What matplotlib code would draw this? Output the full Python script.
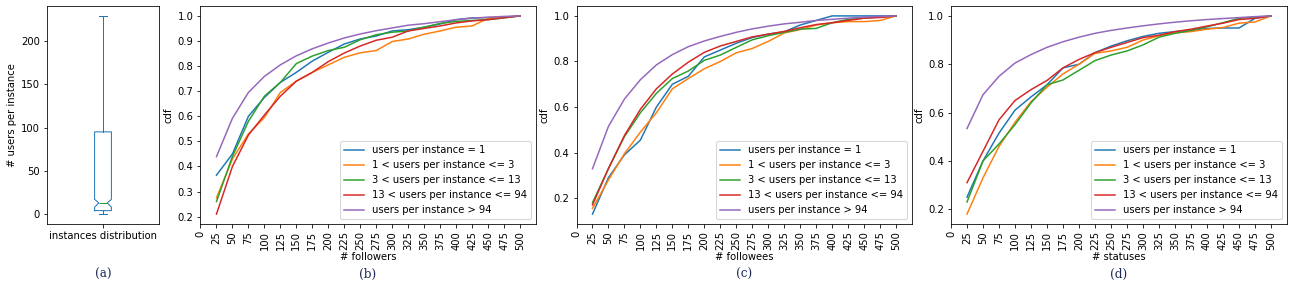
import matplotlib
matplotlib.use("Agg")
import matplotlib.pyplot as plt

# ---------------- data ----------------
x_vals = [25, 50, 75, 100, 125, 150, 175, 200, 225, 250, 275, 300, 325, 350, 375, 400, 425, 450, 475, 500]
xtick_vals = list(range(0, 525, 25))

series_labels = ["users per instance = 1", "1 < users per instance <= 3", "3 < users per instance <= 13",
                 "13 < users per instance <= 94", "users per instance > 94"]

# box plot stats (users per instance)
box_med = 13
box_q1 = 4
box_q3 = 95
box_whislo = 0
box_whishi = 229
box_cilo = 8
box_cihi = 17

# (b) followers
followers_1 = [0.365, 0.45, 0.60, 0.675, 0.735, 0.775, 0.82, 0.855, 0.888, 0.908, 0.92, 0.94, 0.945, 0.955, 0.968, 0.985, 0.992, 0.993, 0.995, 1.0]
followers_3 = [0.275, 0.43, 0.53, 0.595, 0.695, 0.74, 0.775, 0.805, 0.835, 0.853, 0.862, 0.898, 0.908, 0.927, 0.94, 0.955, 0.96, 0.99, 0.995, 1.0]
followers_13 = [0.26, 0.44, 0.58, 0.68, 0.735, 0.81, 0.84, 0.862, 0.875, 0.905, 0.925, 0.935, 0.94, 0.955, 0.97, 0.978, 0.982, 0.985, 0.992, 1.0]
followers_94 = [0.21, 0.40, 0.525, 0.605, 0.68, 0.74, 0.775, 0.818, 0.852, 0.88, 0.903, 0.915, 0.94, 0.95, 0.96, 0.972, 0.98, 0.985, 0.993, 1.0]
followers_big = [0.439, 0.592, 0.695, 0.759, 0.805, 0.841, 0.869, 0.892, 0.912, 0.928, 0.941, 0.952, 0.963, 0.969, 0.977, 0.985, 0.991, 0.995, 0.998, 1.0]

# (c) followees
followees_1 = [0.13, 0.29, 0.39, 0.455, 0.60, 0.70, 0.735, 0.82, 0.85, 0.88, 0.905, 0.92, 0.93, 0.96, 0.98, 1.0, 1.0, 1.0, 1.0, 1.0]
followees_3 = [0.155, 0.28, 0.395, 0.49, 0.575, 0.68, 0.725, 0.768, 0.80, 0.838, 0.857, 0.888, 0.925, 0.94, 0.96, 0.97, 0.975, 0.975, 0.98, 1.0]
followees_13 = [0.18, 0.33, 0.47, 0.575, 0.66, 0.725, 0.758, 0.805, 0.828, 0.862, 0.895, 0.913, 0.928, 0.942, 0.945, 0.97, 0.985, 0.99, 0.995, 1.0]
followees_94 = [0.17, 0.33, 0.475, 0.59, 0.68, 0.745, 0.797, 0.84, 0.868, 0.888, 0.908, 0.92, 0.932, 0.948, 0.962, 0.97, 0.98, 0.99, 0.993, 1.0]
followees_big = [0.329, 0.515, 0.635, 0.72, 0.785, 0.83, 0.865, 0.89, 0.91, 0.928, 0.943, 0.955, 0.965, 0.972, 0.98, 0.985, 0.99, 0.995, 0.998, 1.0]

# (d) statuses
statuses_1 = [0.25, 0.40, 0.515, 0.61, 0.665, 0.715, 0.785, 0.80, 0.848, 0.875, 0.897, 0.915, 0.928, 0.935, 0.94, 0.948, 0.95, 0.95, 0.99, 1.0]
statuses_3 = [0.18, 0.33, 0.46, 0.56, 0.645, 0.705, 0.76, 0.80, 0.845, 0.855, 0.87, 0.90, 0.918, 0.93, 0.935, 0.945, 0.952, 0.97, 0.975, 1.0]
statuses_13 = [0.23, 0.40, 0.47, 0.55, 0.64, 0.715, 0.735, 0.775, 0.815, 0.838, 0.855, 0.88, 0.912, 0.928, 0.94, 0.955, 0.972, 0.99, 0.995, 1.0]
statuses_94 = [0.31, 0.44, 0.57, 0.65, 0.695, 0.733, 0.785, 0.82, 0.848, 0.87, 0.89, 0.91, 0.92, 0.935, 0.945, 0.958, 0.97, 0.985, 0.99, 1.0]
statuses_big = [0.534, 0.674, 0.75, 0.805, 0.84, 0.87, 0.893, 0.912, 0.928, 0.94, 0.95, 0.959, 0.967, 0.974, 0.98, 0.985, 0.989, 0.993, 0.997, 1.0]

panels = [
    ("# followers", [followers_1, followers_3, followers_13, followers_94, followers_big], "(b)"),
    ("# followees", [followees_1, followees_3, followees_13, followees_94, followees_big], "(c)"),
    ("# statuses", [statuses_1, statuses_3, statuses_13, statuses_94, statuses_big], "(d)"),
]

# ---------------- figure ----------------
W, H = 1291, 285
DPI = 72
fig = plt.figure(figsize=(W / DPI, H / DPI), dpi=DPI)
plt.rcParams['font.size'] = 10

def px_axes(left, top, right, bottom):
    return fig.add_axes([left / W, 1 - bottom / H, (right - left) / W, (bottom - top) / H])

caption_kw = dict(ha='center', va='center', fontsize=12, family='DejaVu Serif', color='#1c2b5a')
cap_y = 1 - 274 / H

# (a) box plot
axa = px_axes(47, 6, 159, 224)
stats = [dict(med=box_med, q1=box_q1, q3=box_q3, whislo=box_whislo, whishi=box_whishi,
              cilo=box_cilo, cihi=box_cihi, fliers=[], label="instances distribution")]
axa.bxp(stats, positions=[1], widths=0.15, shownotches=True, showfliers=False,
        boxprops=dict(color='C0'), whiskerprops=dict(color='C0'), capprops=dict(color='C0'),
        medianprops=dict(color='C2', zorder=5))
axa.set_xlim(0.5, 1.5)
axa.set_ylabel("# users per instance")
axa.set_yticks([0, 50, 100, 150, 200])
fig.text((47 + 159) / 2 / W, cap_y, "(a)", **caption_kw)

lefts = [(200.5, 535.7), (576.5, 911.7), (951, 1286.7)]
for (xlabel, ys, cap), (l, r) in zip(panels, lefts):
    ax = px_axes(l, 6, r, 224)
    for i, (yv, lab) in enumerate(zip(ys, series_labels)):
        ax.plot(x_vals, yv, color=f"C{i}", label=lab, linewidth=1.5)
    ax.set_xticks(xtick_vals)
    ax.set_xticklabels([str(v) for v in xtick_vals], rotation=90)
    ax.set_xlim(0, 524.5)
    ax.set_xlabel(xlabel, labelpad=2)
    ax.set_ylabel("cdf")
    ax.legend(loc='lower right', fontsize=10)
    fig.text((l + r) / 2 / W, cap_y, cap, **caption_kw)

fig.savefig("out.png", dpi=DPI)
